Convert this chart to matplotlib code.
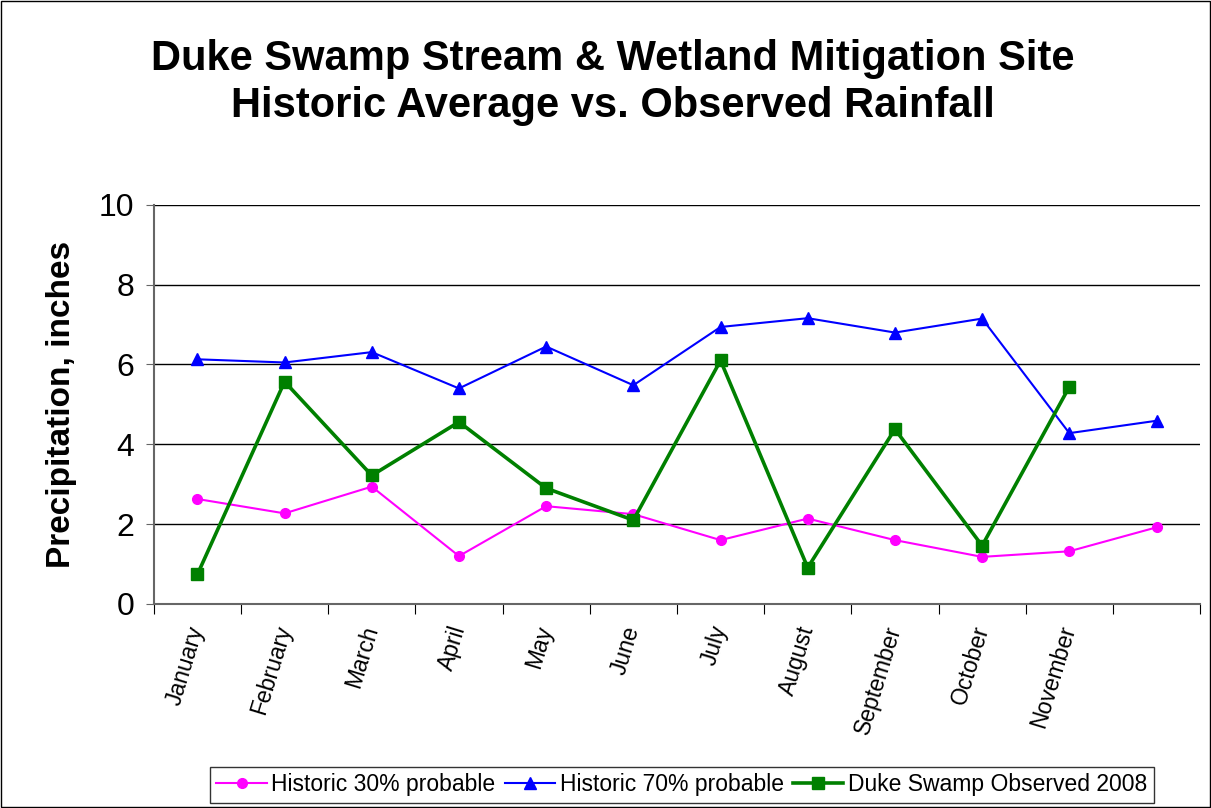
import numpy as np
import matplotlib.pyplot as plt
from matplotlib.patches import Rectangle

months = ['January', 'February', 'March', 'April', 'May', 'June', 'July',
          'August', 'September', 'October', 'November', '']
hist30 = [2.63, 2.27, 2.94, 1.20, 2.45, 2.25, 1.60, 2.14, 1.60, 1.18, 1.32, 1.92]
hist70 = [6.13, 6.05, 6.31, 5.40, 6.45, 5.48, 6.94, 7.16, 6.80, 7.15, 4.28, 4.59]
obs2008 = [0.74, 5.57, 3.22, 4.56, 2.90, 2.10, 6.10, 0.91, 4.38, 1.46, 5.44]

plt.rcParams['font.family'] = ['Liberation Sans', 'DejaVu Sans']

fig = plt.figure(figsize=(12.11, 8.08), dpi=100)
ax = fig.add_axes([0.127, 0.2525, 0.864, 0.494])

x = np.arange(len(months))
ax.plot(x, hist30, color='#ff00ff', lw=1.5, marker='o', ms=7,
        label='Historic 30% probable')
ax.plot(x, hist70, color='#0000ff', lw=1.5, marker='^', ms=8.5,
        label='Historic 70% probable')
ax.plot(x[:len(obs2008)], obs2008, color='#008000', lw=2.6, marker='s', ms=8.5,
        label='Duke Swamp Observed 2008')

ax.set_xlim(-0.5, len(months) - 0.5)
ax.set_ylim(0, 10)
ax.set_yticks([0, 2, 4, 6, 8, 10])
ax.tick_params(axis='y', labelsize=23, length=6, color='0.4', pad=8)
ax.yaxis.grid(True, color='black', lw=1)
ax.set_axisbelow(True)

ax.set_xticks(np.arange(len(months) + 1) - 0.5)
ax.set_xticklabels([])
ax.tick_params(axis='x', which='major', length=7, direction='out', color='black')
ax.set_xticks(x, minor=True)
ax.set_xticklabels(months, minor=True, rotation=73, fontsize=16.5,
                   ha='right', va='center', rotation_mode='anchor')
ax.tick_params(axis='x', which='minor', length=0, pad=16)

for s in ['top', 'right']:
    ax.spines[s].set_visible(False)
ax.spines['left'].set_color('0.4')
ax.spines['bottom'].set_color('0.4')
ax.spines['left'].set_linewidth(1.5)
ax.spines['bottom'].set_linewidth(1.5)

ax.set_ylabel('Precipitation, inches', fontsize=24, fontweight='bold', labelpad=16)

fig.text(0.506, 0.898, 'Duke Swamp Stream & Wetland Mitigation Site\nHistoric Average vs. Observed Rainfall',
         ha='center', va='center', fontsize=30, fontweight='bold', linespacing=1.2)

leg = fig.legend(loc='center', bbox_to_anchor=(0.563, 0.0285), ncol=3, fontsize=16.5,
                 frameon=True, fancybox=False, edgecolor='black', handlelength=2.2,
                 handletextpad=0.2, columnspacing=0.4, borderpad=0.3)
leg.get_frame().set_linewidth(1)

fig.patches.append(Rectangle((0.0008, 0.0012), 0.998, 0.997, transform=fig.transFigure,
                             fill=False, edgecolor='black', lw=1))

fig.savefig('out.png', dpi=100)
